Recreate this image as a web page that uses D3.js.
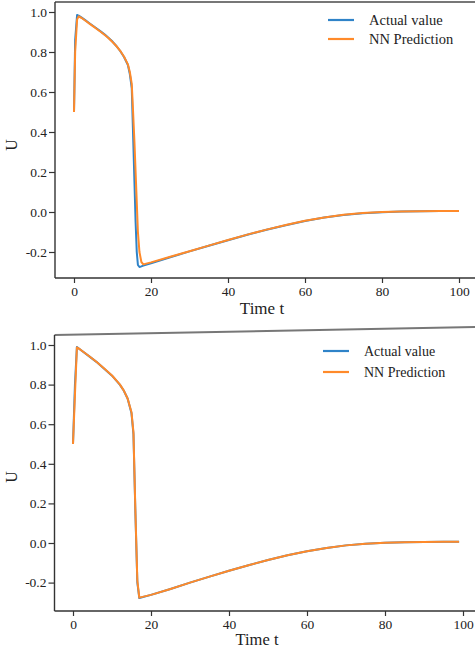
<!DOCTYPE html>
<html>
<head>
<meta charset="utf-8">
<script src="https://cdn.jsdelivr.net/npm/d3@7"></script>
<style>
  body { margin: 0; background: #fff; }
  svg { display: block; }
  text { font-family: 'Liberation Serif', 'DejaVu Serif', serif; fill: #222; }
</style>
</head>
<body>
<svg id="chart" width="475" height="650"></svg>
<script>
// top panel data
const timeTop = [0, 0.3, 0.8, 1.2, 2, 3, 4, 5, 6, 7, 8, 9, 10, 11, 12, 13, 14, 14.5, 15, 15.3, 15.7, 16, 16.3, 16.6, 17, 17.5, 18, 20, 25, 30, 35, 40, 45, 50, 55, 60, 65, 70, 75, 80, 85, 90, 95, 100]
const actualTop = [0.5, 0.86, 0.985, 0.982, 0.972, 0.958, 0.944, 0.93, 0.916, 0.902, 0.887, 0.87, 0.852, 0.83, 0.805, 0.775, 0.735, 0.69, 0.62, 0.42, 0.15, -0.05, -0.2, -0.265, -0.275, -0.272, -0.268, -0.256, -0.226, -0.197, -0.169, -0.141, -0.114, -0.089, -0.066, -0.045, -0.028, -0.015, -0.006, -0.001, 0.002, 0.004, 0.005, 0.005]
const predTop = [0.5, 0.8, 0.962, 0.978, 0.97, 0.956, 0.942, 0.928, 0.914, 0.9, 0.885, 0.869, 0.85, 0.83, 0.806, 0.776, 0.738, 0.7, 0.64, 0.52, 0.35, 0.2, 0.05, -0.1, -0.2, -0.25, -0.262, -0.252, -0.224, -0.196, -0.168, -0.14, -0.113, -0.088, -0.065, -0.044, -0.027, -0.014, -0.005, 0.0, 0.003, 0.004, 0.005, 0.005]

// bottom panel data
const timeBottom = [0, 0.5, 1, 2, 4, 6, 8, 10, 12, 13, 14, 15, 15.5, 16, 16.5, 17, 20, 25, 30, 35, 40, 45, 50, 55, 60, 65, 70, 75, 80, 85, 90, 95, 99]
const actualBottom = [0.5, 0.8, 0.99, 0.975, 0.945, 0.915, 0.88, 0.845, 0.8, 0.77, 0.73, 0.655, 0.55, 0.15, -0.2, -0.278, -0.262, -0.232, -0.2, -0.17, -0.14, -0.112, -0.086, -0.062, -0.042, -0.025, -0.012, -0.004, 0.001, 0.004, 0.005, 0.006, 0.006]
const predBottom = [0.5, 0.75, 0.988, 0.975, 0.946, 0.915, 0.881, 0.846, 0.801, 0.771, 0.73, 0.66, 0.56, 0.16, -0.19, -0.276, -0.262, -0.232, -0.2, -0.17, -0.14, -0.112, -0.086, -0.062, -0.042, -0.025, -0.012, -0.004, 0.001, 0.004, 0.005, 0.006, 0.006]

const xTicks = [0, 20, 40, 60, 80, 100]
const yTicks = [-0.2, 0.0, 0.2, 0.4, 0.6, 0.8, 1.0]
const seriesNames = ['Actual value', 'NN Prediction']
const colors = ['#2f83c8', '#ff8a2a']

const svg = d3.select('#chart')

function drawPanel (p) {
  const g = svg.append('g')
  const x = d3.scaleLinear().domain([0, 100]).range(p.xRange)
  const y = d3.scaleLinear().domain([0, 1]).range(p.yRange)

  // frame: top edge, left and bottom spines
  g.append('line')
    .attr('x1', p.left).attr('x2', 475)
    .attr('y1', p.top).attr('y2', p.topRight)
    .style('stroke', '#777').style('stroke-width', 2)

  const yAxis = g.append('g')
    .attr('transform', `translate(${p.left},0)`)
    .call(d3.axisLeft(y).tickValues(yTicks).tickSize(6).tickPadding(2)
      .tickSizeOuter(0).tickFormat(d => d.toFixed(1)))
  const xAxis = g.append('g')
    .attr('transform', `translate(0,${p.bottom})`)
    .call(d3.axisBottom(x).tickValues(xTicks).tickSize(5).tickPadding(3)
      .tickSizeOuter(0).tickFormat(d3.format('d')))

  ;[yAxis, xAxis].forEach(a => {
    a.select('.domain').remove()
    a.selectAll('line').style('stroke', '#333').style('stroke-width', 1.2)
    a.selectAll('text').style('font-size', '13.5px').style('fill', '#222')
      .style('font-family', "'Liberation Serif', serif")
  })

  g.append('line')
    .attr('x1', p.left).attr('x2', p.left)
    .attr('y1', p.top).attr('y2', p.bottom)
    .style('stroke', '#333').style('stroke-width', 1.4)
  g.append('line')
    .attr('x1', p.left).attr('x2', 475)
    .attr('y1', p.bottom).attr('y2', p.bottom)
    .style('stroke', '#333').style('stroke-width', 1.4)

  // lines
  const line = d3.line()
    .x(d => x(d[0]))
    .y(d => y(d[1]))
  const series = [p.actual, p.pred]
  series.forEach((vals, i) => {
    g.append('path')
      .datum(p.time.map((t, j) => [t, vals[j]]))
      .attr('d', line)
      .style('fill', 'none')
      .style('stroke', colors[i])
      .style('stroke-width', 2)
      .style('stroke-linejoin', 'round')
  })

  // labels
  g.append('text')
    .attr('x', p.xLabel[0]).attr('y', p.xLabel[1])
    .attr('text-anchor', 'middle')
    .style('font-size', p.xLabelSize)
    .text('Time t')
  g.append('text')
    .attr('transform', `translate(${p.yLabel[0]},${p.yLabel[1]}) rotate(-90)`)
    .attr('text-anchor', 'middle')
    .style('font-size', '16px')
    .text('U')

  // legend
  const leg = g.append('g').attr('transform', `translate(${p.legend[0]},${p.legend[1]})`)
  seriesNames.forEach((name, i) => {
    leg.append('line')
      .attr('x1', 0).attr('x2', 26)
      .attr('y1', i * p.legendGap).attr('y2', i * p.legendGap)
      .style('stroke', colors[i]).style('stroke-width', 2.2)
    leg.append('text')
      .attr('x', 41).attr('y', i * p.legendGap + 5)
      .style('font-size', p.legendSize)
      .text(name)
  })
}

drawPanel({
  time: timeTop, actual: actualTop, pred: predTop,
  xRange: [74, 459], yRange: [212, 12],
  left: 55, top: 2, topRight: 2, bottom: 278,
  xLabel: [262, 314], xLabelSize: '17px', yLabel: [17, 145],
  legend: [328, 20], legendGap: 19, legendSize: '14.5px'
})

drawPanel({
  time: timeBottom, actual: actualBottom, pred: predBottom,
  xRange: [73, 463], yRange: [543, 345],
  left: 54.5, top: 335, topRight: 327, bottom: 611,
  xLabel: [257, 645], xLabelSize: '16.5px', yLabel: [17, 477],
  legend: [323, 351], legendGap: 21, legendSize: '14px'
})
</script>
</body>
</html>
